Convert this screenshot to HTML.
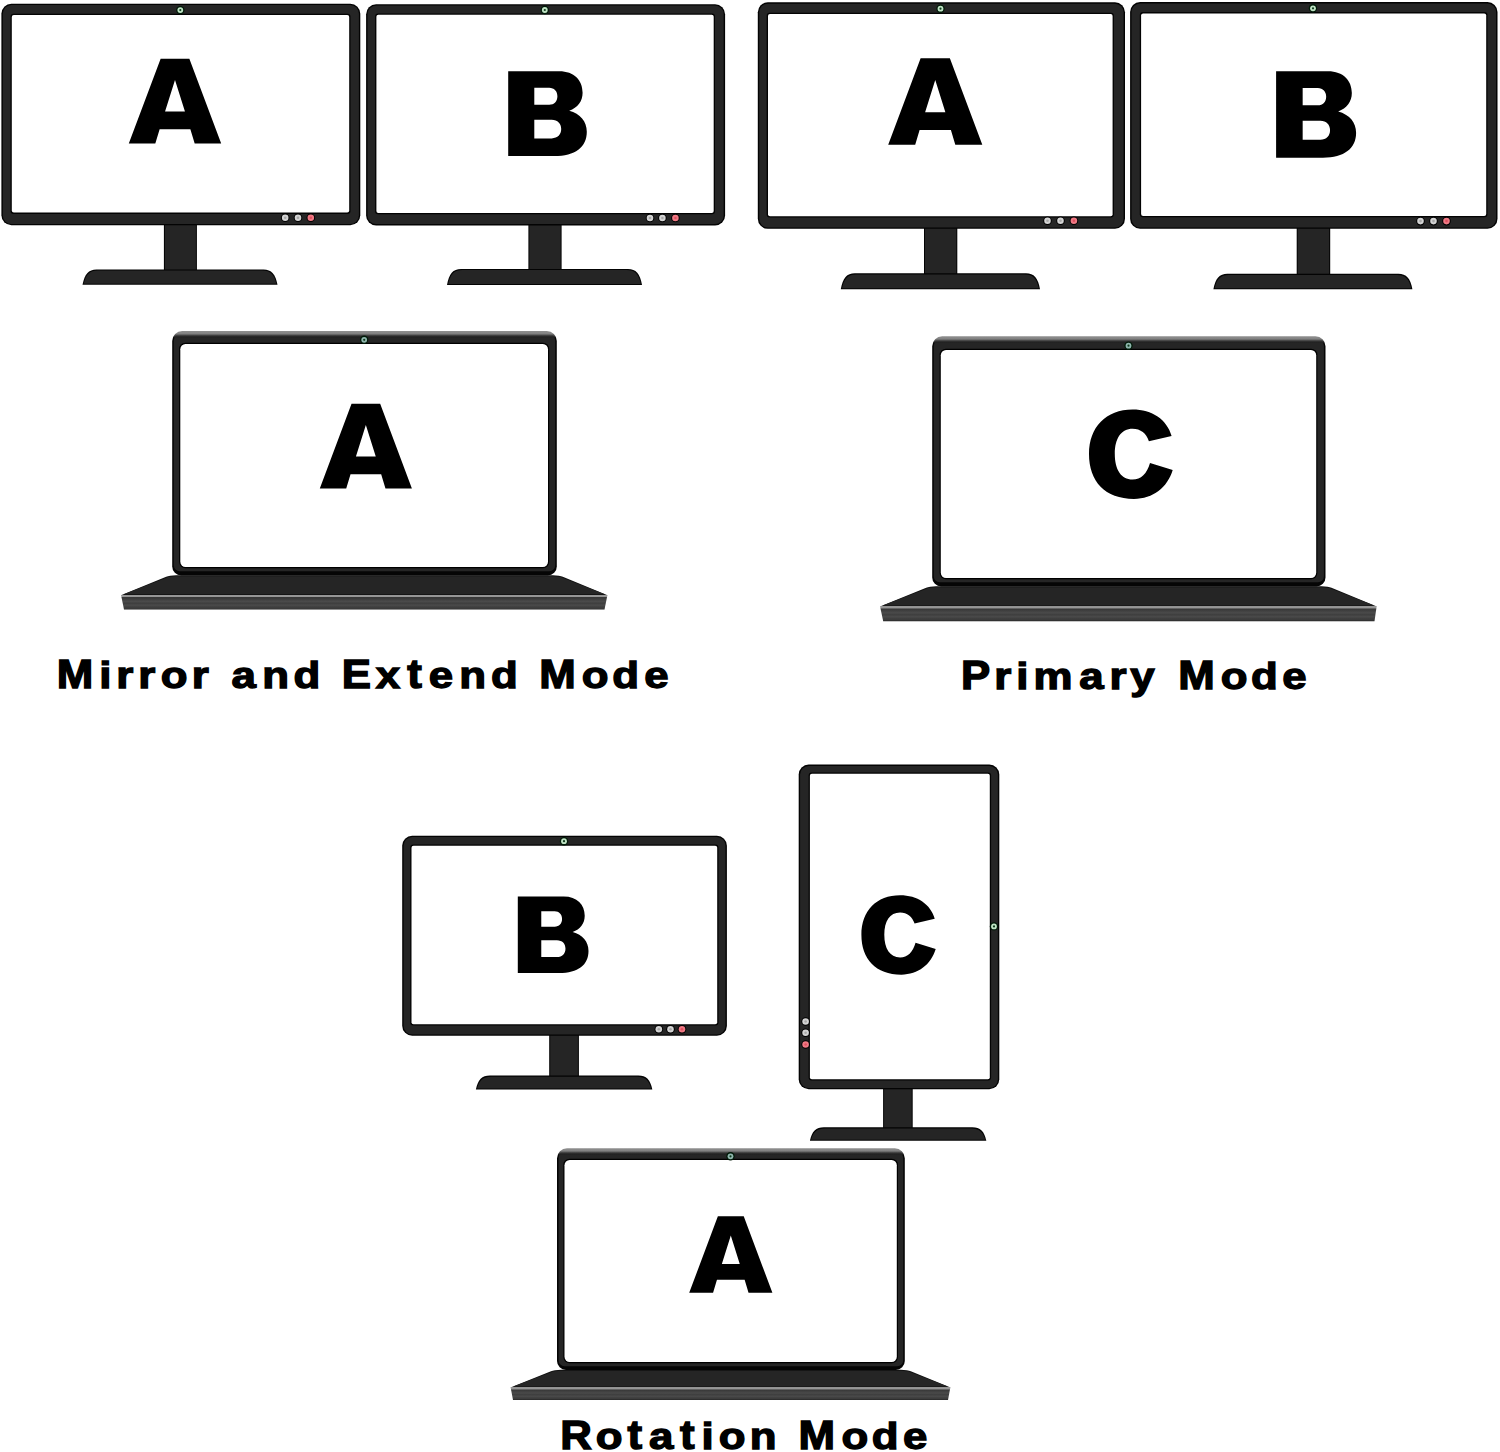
<!DOCTYPE html>
<html><head><meta charset="utf-8"><title>Display Modes</title><style>html,body{margin:0;padding:0;background:#fff;}body{width:1500px;height:1452px;overflow:hidden;}svg{display:block;font-family:"Liberation Sans",sans-serif;}</style></head><body>
<svg width="1500" height="1452" viewBox="0 0 1500 1452">
<defs><linearGradient id="front" x1="0" y1="0" x2="0" y2="1"><stop offset="0" stop-color="#383838"/><stop offset="0.1" stop-color="#3a3a3a"/><stop offset="0.35" stop-color="#4a4a4a"/><stop offset="0.5" stop-color="#3e3e3e"/><stop offset="0.65" stop-color="#4a4a4a"/><stop offset="0.8" stop-color="#3e3e3e"/><stop offset="0.92" stop-color="#3a3a3a"/><stop offset="1" stop-color="#1e1e1e"/></linearGradient></defs>
<rect width="1500" height="1452" fill="#fff"/>
<rect x="163.9" y="223" width="33" height="47.4" rx="0" fill="#030303"/><rect x="164.9" y="223" width="31" height="47.4" rx="0" fill="#252525"/><path fill="#030303" d="M82.5,284.8 C84.5,274.02 88.5,269.4 96.5,269.4 H263.5 C271.5,269.4 275.5,274.02 277.5,284.8 Z"/><path fill="#252525" d="M83.7,283.8 C85.7,274.49 89.7,270.5 97.7,270.5 H262.3 C270.3,270.5 274.3,274.49 276.3,283.8 Z"/><rect x="1.4" y="3.7" width="358.9" height="221.6" rx="10" fill="#030303"/><rect x="2.8" y="5.1" width="356.1" height="218.8" rx="8.6" fill="#252525"/><rect x="10.5" y="13.8" width="340" height="200.1" rx="3" fill="#030303"/><rect x="11.8" y="15.1" width="337.4" height="197.5" rx="2" fill="#fff"/><circle cx="180.3" cy="10.1" r="4.2" fill="#001a08"/><circle cx="180.3" cy="10.1" r="2.9" fill="#bfe3c4"/><circle cx="180.3" cy="10.1" r="1.1" fill="#0f3a1c"/><circle cx="285.2" cy="217.8" r="4.3" fill="#000"/><circle cx="285.2" cy="217.8" r="3.3" fill="#d4d4d4"/><circle cx="285.2" cy="217.8" r="1.3" fill="#a8a8a8"/><circle cx="298" cy="217.8" r="4.3" fill="#000"/><circle cx="298" cy="217.8" r="3.3" fill="#d4d4d4"/><circle cx="298" cy="217.8" r="1.3" fill="#a8a8a8"/><circle cx="310.8" cy="217.8" r="4.3" fill="#000"/><circle cx="310.8" cy="217.8" r="3.3" fill="#f07a85"/><circle cx="310.8" cy="217.8" r="1.3" fill="#e05060"/>
<path fill="#000" fill-rule="evenodd" transform="translate(128.8 58.8) scale(1.00435 1.00000)" d="M31.7,0 L60.3,0 L92,84.8 L65.6,84.8 L61.3,70.4 L30.7,70.4 L26.4,84.8 L0,84.8 Z M46,21.2 L55.9,52.8 L36.1,52.8 Z"/>
<rect x="528.4" y="223.4" width="33.2" height="46.6" rx="0" fill="#030303"/><rect x="529.4" y="223.4" width="31.2" height="46.6" rx="0" fill="#252525"/><path fill="#030303" d="M447,285 C449,273.8 453,269 461,269 H628 C636,269 640,273.8 642,285 Z"/><path fill="#252525" d="M448.2,284 C450.2,274.27 454.2,270.1 462.2,270.1 H626.8 C634.8,270.1 638.8,274.27 640.8,284 Z"/><rect x="366.1" y="4.2" width="359" height="221.2" rx="10" fill="#030303"/><rect x="367.5" y="5.6" width="356.2" height="218.4" rx="8.6" fill="#252525"/><rect x="375.1" y="13.4" width="339.9" height="200.9" rx="3" fill="#030303"/><rect x="376.4" y="14.7" width="337.3" height="198.3" rx="2" fill="#fff"/><circle cx="544.8" cy="10" r="4.2" fill="#001a08"/><circle cx="544.8" cy="10" r="2.9" fill="#bfe3c4"/><circle cx="544.8" cy="10" r="1.1" fill="#0f3a1c"/><circle cx="650" cy="218" r="4.3" fill="#000"/><circle cx="650" cy="218" r="3.3" fill="#d4d4d4"/><circle cx="650" cy="218" r="1.3" fill="#a8a8a8"/><circle cx="662.4" cy="218" r="4.3" fill="#000"/><circle cx="662.4" cy="218" r="3.3" fill="#d4d4d4"/><circle cx="662.4" cy="218" r="1.3" fill="#a8a8a8"/><circle cx="675.4" cy="218" r="4.3" fill="#000"/><circle cx="675.4" cy="218" r="3.3" fill="#f07a85"/><circle cx="675.4" cy="218" r="1.3" fill="#e05060"/>
<path fill="#000" fill-rule="evenodd" transform="translate(508.2 71.2) scale(1.00000 1.00000)" d="M0,0 H51 C66,0 74.4,9 74.4,21.5 C74.4,30 69.5,36.5 61,39.5 C72,42.5 78.6,50 78.6,60.5 C78.6,76 67,84.9 46,84.9 H0 Z M26.1,16.5 H41 C46,16.5 49.2,20 49.2,25 C49.2,30 46,33.5 41,33.5 H26.1 Z M26.1,48.6 H43.5 C49.5,48.6 53,52.5 53,57.9 C53,63.3 49.5,67.2 43.5,67.2 H26.1 Z"/>
<path fill="#111" d="M121,595.3 L166.2,576.8 Q169.2,575.2 176.2,575.2 H552.8 Q559.8,575.2 562.8,576.8 L607.5,595.3 Z"/><path fill="#252525" d="M123.6,594.3 L166.6,577.8 Q169.7,576.3 176.2,576.3 H552.8 Q559.3,576.3 562.4,577.8 L604.9,594.3 Z"/><path fill="#969696" d="M121,595 L607.5,595 L607.05,597.1 L121.45,597.1 Z"/><path fill="url(#front)" d="M121.45,597.1 L607.05,597.1 L604.5,609.5 L124,609.5 Z"/><linearGradient id="lg1" gradientUnits="userSpaceOnUse" x1="0" y1="331" x2="0" y2="338"><stop offset="0" stop-color="#909090"/><stop offset="0.36" stop-color="#828282"/><stop offset="0.72" stop-color="#3a3a3a"/><stop offset="1" stop-color="#050505"/></linearGradient><linearGradient id="lb1" gradientUnits="userSpaceOnUse" x1="0" y1="334.5" x2="0" y2="338"><stop offset="0" stop-color="#252525" stop-opacity="0"/><stop offset="0.5" stop-color="#252525" stop-opacity="0.5"/><stop offset="1" stop-color="#252525"/></linearGradient><path fill="url(#lg1)" d="M172.2,341 A10,10 0 0 1 182.2,331 H546.8 A10,10 0 0 1 556.8,341 V566.5 A9,9 0 0 1 547.8,575.5 H181.2 A9,9 0 0 1 172.2,566.5 Z"/><path fill="url(#lb1)" d="M173.8,340.5 A8.5,8.5 0 0 1 182.3,332 H546.7 A8.5,8.5 0 0 1 555.2,340.5 V565.3 A6,6 0 0 1 549.2,571.3 H179.8 A6,6 0 0 1 173.8,565.3 Z"/><rect x="179.1" y="342.8" width="370.1" height="225.5" rx="6.2" fill="#000"/><rect x="180.3" y="344" width="367.7" height="223" rx="5.2" fill="#fff"/><circle cx="364.2" cy="339.8" r="4.2" fill="#001a08"/><circle cx="364.2" cy="339.8" r="2.9" fill="#8fb5ad"/><circle cx="364.2" cy="339.8" r="1.1" fill="#0f3a1c"/>
<path fill="#000" fill-rule="evenodd" transform="translate(319.8 403.8) scale(1.00109 1.00000)" d="M31.7,0 L60.3,0 L92,84.8 L65.6,84.8 L61.3,70.4 L30.7,70.4 L26.4,84.8 L0,84.8 Z M46,21.2 L55.9,52.8 L36.1,52.8 Z"/>
<rect x="924" y="226.8" width="33.3" height="47.5" rx="0" fill="#030303"/><rect x="925" y="226.8" width="31.3" height="47.5" rx="0" fill="#252525"/><path fill="#030303" d="M840.8,289.3 C842.8,278.1 846.8,273.3 854.8,273.3 H1026 C1034,273.3 1038,278.1 1040,289.3 Z"/><path fill="#252525" d="M842,288.3 C844,278.57 848,274.4 856,274.4 H1024.8 C1032.8,274.4 1036.8,278.57 1038.8,288.3 Z"/><rect x="757.8" y="2.3" width="367.2" height="226.5" rx="10" fill="#030303"/><rect x="759.2" y="3.7" width="364.4" height="223.7" rx="8.6" fill="#252525"/><rect x="766.7" y="12.7" width="347.2" height="204.8" rx="3" fill="#030303"/><rect x="768" y="14" width="344.6" height="202.2" rx="2" fill="#fff"/><circle cx="940.5" cy="8.7" r="4.2" fill="#001a08"/><circle cx="940.5" cy="8.7" r="2.9" fill="#bfe3c4"/><circle cx="940.5" cy="8.7" r="1.1" fill="#0f3a1c"/><circle cx="1047.5" cy="220.8" r="4.3" fill="#000"/><circle cx="1047.5" cy="220.8" r="3.3" fill="#d4d4d4"/><circle cx="1047.5" cy="220.8" r="1.3" fill="#a8a8a8"/><circle cx="1060.5" cy="220.8" r="4.3" fill="#000"/><circle cx="1060.5" cy="220.8" r="3.3" fill="#d4d4d4"/><circle cx="1060.5" cy="220.8" r="1.3" fill="#a8a8a8"/><circle cx="1073.9" cy="220.8" r="4.3" fill="#000"/><circle cx="1073.9" cy="220.8" r="3.3" fill="#f07a85"/><circle cx="1073.9" cy="220.8" r="1.3" fill="#e05060"/>
<path fill="#000" fill-rule="evenodd" transform="translate(888.2 58.3) scale(1.02283 1.02005)" d="M31.7,0 L60.3,0 L92,84.8 L65.6,84.8 L61.3,70.4 L30.7,70.4 L26.4,84.8 L0,84.8 Z M46,21.2 L55.9,52.8 L36.1,52.8 Z"/>
<rect x="1296.7" y="226.8" width="33.5" height="48" rx="0" fill="#030303"/><rect x="1297.7" y="226.8" width="31.5" height="48" rx="0" fill="#252525"/><path fill="#030303" d="M1213.4,289.3 C1215.4,278.45 1219.4,273.8 1227.4,273.8 H1398.4 C1406.4,273.8 1410.4,278.45 1412.4,289.3 Z"/><path fill="#252525" d="M1214.6,288.3 C1216.6,278.92 1220.6,274.9 1228.6,274.9 H1397.2 C1405.2,274.9 1409.2,278.92 1411.2,288.3 Z"/><rect x="1130.1" y="2.1" width="367.4" height="226.7" rx="10" fill="#030303"/><rect x="1131.5" y="3.5" width="364.6" height="223.9" rx="8.6" fill="#252525"/><rect x="1139.8" y="12.1" width="347.7" height="205.2" rx="3" fill="#030303"/><rect x="1141.1" y="13.4" width="345.1" height="202.6" rx="2" fill="#fff"/><circle cx="1313" cy="8.3" r="4.2" fill="#001a08"/><circle cx="1313" cy="8.3" r="2.9" fill="#bfe3c4"/><circle cx="1313" cy="8.3" r="1.1" fill="#0f3a1c"/><circle cx="1420.5" cy="221.1" r="4.3" fill="#000"/><circle cx="1420.5" cy="221.1" r="3.3" fill="#d4d4d4"/><circle cx="1420.5" cy="221.1" r="1.3" fill="#a8a8a8"/><circle cx="1433.5" cy="221.1" r="4.3" fill="#000"/><circle cx="1433.5" cy="221.1" r="3.3" fill="#d4d4d4"/><circle cx="1433.5" cy="221.1" r="1.3" fill="#a8a8a8"/><circle cx="1446.5" cy="221.1" r="4.3" fill="#000"/><circle cx="1446.5" cy="221.1" r="3.3" fill="#f07a85"/><circle cx="1446.5" cy="221.1" r="1.3" fill="#e05060"/>
<path fill="#000" fill-rule="evenodd" transform="translate(1276.1 71.2) scale(1.01781 1.01885)" d="M0,0 H51 C66,0 74.4,9 74.4,21.5 C74.4,30 69.5,36.5 61,39.5 C72,42.5 78.6,50 78.6,60.5 C78.6,76 67,84.9 46,84.9 H0 Z M26.1,16.5 H41 C46,16.5 49.2,20 49.2,25 C49.2,30 46,33.5 41,33.5 H26.1 Z M26.1,48.6 H43.5 C49.5,48.6 53,52.5 53,57.9 C53,63.3 49.5,67.2 43.5,67.2 H26.1 Z"/>
<path fill="#111" d="M880,606.5 L926.2,587.8 Q929.2,586.2 936.2,586.2 H1321.5 Q1328.5,586.2 1331.5,587.8 L1376.8,606.5 Z"/><path fill="#252525" d="M882.6,605.5 L926.6,588.8 Q929.7,587.3 936.2,587.3 H1321.5 Q1328,587.3 1331.1,588.8 L1374.2,605.5 Z"/><path fill="#969696" d="M880,606.2 L1376.8,606.2 L1376.35,608.3 L880.45,608.3 Z"/><path fill="url(#front)" d="M880.45,608.3 L1376.35,608.3 L1374.5,621.2 L883.2,621.2 Z"/><linearGradient id="lg2" gradientUnits="userSpaceOnUse" x1="0" y1="336.3" x2="0" y2="343.3"><stop offset="0" stop-color="#909090"/><stop offset="0.36" stop-color="#828282"/><stop offset="0.72" stop-color="#3a3a3a"/><stop offset="1" stop-color="#050505"/></linearGradient><linearGradient id="lb2" gradientUnits="userSpaceOnUse" x1="0" y1="339.8" x2="0" y2="343.3"><stop offset="0" stop-color="#252525" stop-opacity="0"/><stop offset="0.5" stop-color="#252525" stop-opacity="0.5"/><stop offset="1" stop-color="#252525"/></linearGradient><path fill="url(#lg2)" d="M932.2,346.3 A10,10 0 0 1 942.2,336.3 H1315.5 A10,10 0 0 1 1325.5,346.3 V577.5 A9,9 0 0 1 1316.5,586.5 H941.2 A9,9 0 0 1 932.2,577.5 Z"/><path fill="url(#lb2)" d="M933.8,345.8 A8.5,8.5 0 0 1 942.3,337.3 H1315.4 A8.5,8.5 0 0 1 1323.9,345.8 V576.3 A6,6 0 0 1 1317.9,582.3 H939.8 A6,6 0 0 1 933.8,576.3 Z"/><rect x="939.6" y="348.8" width="377.8" height="230.5" rx="6.2" fill="#000"/><rect x="940.8" y="350" width="375.4" height="228" rx="5.2" fill="#fff"/><circle cx="1128.5" cy="345.7" r="4.2" fill="#001a08"/><circle cx="1128.5" cy="345.7" r="2.9" fill="#8fb5ad"/><circle cx="1128.5" cy="345.7" r="1.1" fill="#0f3a1c"/>
<path fill="#000" fill-rule="evenodd" transform="translate(1089 409.5) scale(1.00000 1.00000)" d="M82.6,26.5 C78,10 63,0 43.6,0 C17,0 0,17.5 0,44.5 C0,72 16,89.4 45,89.4 C64,89.4 78.5,78 83.7,60.6 L61,53.4 C58,64 52,70 43.6,70 C32,70 25.8,60 25.8,44.5 C25.8,29 32,19.3 43.6,19.3 C51.5,19.3 57.5,24 59.9,31.8 Z"/>
<rect x="549.2" y="1033.8" width="29.7" height="42.8" rx="0" fill="#030303"/><rect x="550.2" y="1033.8" width="27.7" height="42.8" rx="0" fill="#252525"/><path fill="#030303" d="M475.9,1089.6 C477.9,1079.8 481.9,1075.6 489.9,1075.6 H638.3 C646.3,1075.6 650.3,1079.8 652.3,1089.6 Z"/><path fill="#252525" d="M477.1,1088.6 C479.1,1080.27 483.1,1076.7 491.1,1076.7 H637.1 C645.1,1076.7 649.1,1080.27 651.1,1088.6 Z"/><rect x="402.2" y="835.7" width="324.7" height="200.1" rx="10" fill="#030303"/><rect x="403.6" y="837.1" width="321.9" height="197.3" rx="8.6" fill="#252525"/><rect x="410.2" y="844.4" width="308.3" height="181.2" rx="3" fill="#030303"/><rect x="411.5" y="845.7" width="305.7" height="178.6" rx="2" fill="#fff"/><circle cx="564" cy="841.2" r="4.2" fill="#001a08"/><circle cx="564" cy="841.2" r="2.9" fill="#bfe3c4"/><circle cx="564" cy="841.2" r="1.1" fill="#0f3a1c"/><circle cx="658.8" cy="1029.3" r="4.3" fill="#000"/><circle cx="658.8" cy="1029.3" r="3.3" fill="#d4d4d4"/><circle cx="658.8" cy="1029.3" r="1.3" fill="#a8a8a8"/><circle cx="670.5" cy="1029.3" r="4.3" fill="#000"/><circle cx="670.5" cy="1029.3" r="3.3" fill="#d4d4d4"/><circle cx="670.5" cy="1029.3" r="1.3" fill="#a8a8a8"/><circle cx="682" cy="1029.3" r="4.3" fill="#000"/><circle cx="682" cy="1029.3" r="3.3" fill="#f07a85"/><circle cx="682" cy="1029.3" r="1.3" fill="#e05060"/>
<path fill="#000" fill-rule="evenodd" transform="translate(517.8 896.4) scale(0.89949 0.90342)" d="M0,0 H51 C66,0 74.4,9 74.4,21.5 C74.4,30 69.5,36.5 61,39.5 C72,42.5 78.6,50 78.6,60.5 C78.6,76 67,84.9 46,84.9 H0 Z M26.1,16.5 H41 C46,16.5 49.2,20 49.2,25 C49.2,30 46,33.5 41,33.5 H26.1 Z M26.1,48.6 H43.5 C49.5,48.6 53,52.5 53,57.9 C53,63.3 49.5,67.2 43.5,67.2 H26.1 Z"/>
<rect x="883.1" y="1087.3" width="29.6" height="41" rx="0" fill="#030303"/><rect x="884.1" y="1087.3" width="27.6" height="41" rx="0" fill="#252525"/><path fill="#030303" d="M809.9,1140.8 C811.9,1131.35 815.9,1127.3 823.9,1127.3 H972.3 C980.3,1127.3 984.3,1131.35 986.3,1140.8 Z"/><path fill="#252525" d="M811.1,1139.8 C813.1,1131.82 817.1,1128.4 825.1,1128.4 H971.1 C979.1,1128.4 983.1,1131.82 985.1,1139.8 Z"/><rect x="798.7" y="764.6" width="200.6" height="324.7" rx="10" fill="#030303"/><rect x="800.1" y="766" width="197.8" height="321.9" rx="8.6" fill="#252525"/><rect x="808.6" y="772.5" width="182.5" height="308.1" rx="3" fill="#030303"/><rect x="809.9" y="773.8" width="179.9" height="305.5" rx="2" fill="#fff"/><circle cx="994" cy="926.4" r="4.2" fill="#001a08"/><circle cx="994" cy="926.4" r="2.9" fill="#bfe3c4"/><circle cx="994" cy="926.4" r="1.1" fill="#0f3a1c"/><circle cx="805.6" cy="1021.5" r="4.3" fill="#000"/><circle cx="805.6" cy="1021.5" r="3.3" fill="#d4d4d4"/><circle cx="805.6" cy="1021.5" r="1.3" fill="#a8a8a8"/><circle cx="805.6" cy="1032.7" r="4.3" fill="#000"/><circle cx="805.6" cy="1032.7" r="3.3" fill="#d4d4d4"/><circle cx="805.6" cy="1032.7" r="1.3" fill="#a8a8a8"/><circle cx="805.6" cy="1044.5" r="4.3" fill="#000"/><circle cx="805.6" cy="1044.5" r="3.3" fill="#f07a85"/><circle cx="805.6" cy="1044.5" r="1.3" fill="#e05060"/>
<path fill="#000" fill-rule="evenodd" transform="translate(861.4 895.3) scale(0.88769 0.88814)" d="M82.6,26.5 C78,10 63,0 43.6,0 C17,0 0,17.5 0,44.5 C0,72 16,89.4 45,89.4 C64,89.4 78.5,78 83.7,60.6 L61,53.4 C58,64 52,70 43.6,70 C32,70 25.8,60 25.8,44.5 C25.8,29 32,19.3 43.6,19.3 C51.5,19.3 57.5,24 59.9,31.8 Z"/>
<path fill="#111" d="M510.5,1387.5 L551,1371.3 Q554,1369.7 561,1369.7 H900.8 Q907.8,1369.7 910.8,1371.3 L950.5,1387.5 Z"/><path fill="#252525" d="M513.1,1386.5 L551.4,1372.3 Q554.5,1370.8 561,1370.8 H900.8 Q907.3,1370.8 910.4,1372.3 L947.9,1386.5 Z"/><path fill="#969696" d="M510.5,1387.2 L950.5,1387.2 L950.05,1389.3 L510.95,1389.3 Z"/><path fill="url(#front)" d="M510.95,1389.3 L950.05,1389.3 L948,1400 L513,1400 Z"/><linearGradient id="lg3" gradientUnits="userSpaceOnUse" x1="0" y1="1148.2" x2="0" y2="1155.2"><stop offset="0" stop-color="#909090"/><stop offset="0.36" stop-color="#828282"/><stop offset="0.72" stop-color="#3a3a3a"/><stop offset="1" stop-color="#050505"/></linearGradient><linearGradient id="lb3" gradientUnits="userSpaceOnUse" x1="0" y1="1151.7" x2="0" y2="1155.2"><stop offset="0" stop-color="#252525" stop-opacity="0"/><stop offset="0.5" stop-color="#252525" stop-opacity="0.5"/><stop offset="1" stop-color="#252525"/></linearGradient><path fill="url(#lg3)" d="M557,1158.2 A10,10 0 0 1 567,1148.2 H894.8 A10,10 0 0 1 904.8,1158.2 V1361 A9,9 0 0 1 895.8,1370 H566 A9,9 0 0 1 557,1361 Z"/><path fill="url(#lb3)" d="M558.6,1157.7 A8.5,8.5 0 0 1 567.1,1149.2 H894.7 A8.5,8.5 0 0 1 903.2,1157.7 V1360.3 A6,6 0 0 1 897.2,1366.3 H564.6 A6,6 0 0 1 558.6,1360.3 Z"/><rect x="563.3" y="1158.8" width="334.7" height="204.5" rx="6.2" fill="#000"/><rect x="564.5" y="1160" width="332.3" height="202" rx="5.2" fill="#fff"/><circle cx="730.5" cy="1156.3" r="4.2" fill="#001a08"/><circle cx="730.5" cy="1156.3" r="2.9" fill="#8fb5ad"/><circle cx="730.5" cy="1156.3" r="1.1" fill="#0f3a1c"/>
<path fill="#000" fill-rule="evenodd" transform="translate(689.2 1216.3) scale(0.90435 0.90212)" d="M31.7,0 L60.3,0 L92,84.8 L65.6,84.8 L61.3,70.4 L30.7,70.4 L26.4,84.8 L0,84.8 Z M46,21.2 L55.9,52.8 L36.1,52.8 Z"/>
<text transform="translate(0 688.1) scale(1.09295 1)" x="51.82" y="0" font-family="Liberation Sans" font-weight="bold" font-size="40.1" fill="#000" stroke="#000" stroke-width="1.4">M</text><text transform="translate(0 688.1) scale(1.09295 0.93)" x="90.77" y="0" font-family="Liberation Sans" font-weight="bold" font-size="40.1" fill="#000" stroke="#000" stroke-width="1.4">i</text><text transform="translate(0 688.1) scale(1.09295 0.93)" x="106.48" y="0" font-family="Liberation Sans" font-weight="bold" font-size="40.1" fill="#000" stroke="#000" stroke-width="1.4">r</text><text transform="translate(0 688.1) scale(1.09295 0.93)" x="126.61" y="0" font-family="Liberation Sans" font-weight="bold" font-size="40.1" fill="#000" stroke="#000" stroke-width="1.4">r</text><text transform="translate(0 688.1) scale(1.09295 0.93)" x="147.17" y="0" font-family="Liberation Sans" font-weight="bold" font-size="40.1" fill="#000" stroke="#000" stroke-width="1.4">o</text><text transform="translate(0 688.1) scale(1.09295 0.93)" x="175.38" y="0" font-family="Liberation Sans" font-weight="bold" font-size="40.1" fill="#000" stroke="#000" stroke-width="1.4">r</text><text transform="translate(0 688.1) scale(1.09295 0.93)" x="211.80" y="0" font-family="Liberation Sans" font-weight="bold" font-size="40.1" fill="#000" stroke="#000" stroke-width="1.4">a</text><text transform="translate(0 688.1) scale(1.09295 0.93)" x="240.06" y="0" font-family="Liberation Sans" font-weight="bold" font-size="40.1" fill="#000" stroke="#000" stroke-width="1.4">n</text><text transform="translate(0 688.1) scale(1.09295 0.93)" x="268.51" y="0" font-family="Liberation Sans" font-weight="bold" font-size="40.1" fill="#000" stroke="#000" stroke-width="1.4">d</text><text transform="translate(0 688.1) scale(1.09295 1)" x="312.58" y="0" font-family="Liberation Sans" font-weight="bold" font-size="40.1" fill="#000" stroke="#000" stroke-width="1.4">E</text><text transform="translate(0 688.1) scale(1.09295 0.93)" x="343.90" y="0" font-family="Liberation Sans" font-weight="bold" font-size="40.1" fill="#000" stroke="#000" stroke-width="1.4">x</text><text transform="translate(0 688.1) scale(1.09295 1)" x="372.69" y="0" font-family="Liberation Sans" font-weight="bold" font-size="40.1" fill="#000" stroke="#000" stroke-width="1.4">t</text><text transform="translate(0 688.1) scale(1.09295 0.93)" x="392.38" y="0" font-family="Liberation Sans" font-weight="bold" font-size="40.1" fill="#000" stroke="#000" stroke-width="1.4">e</text><text transform="translate(0 688.1) scale(1.09295 0.93)" x="420.31" y="0" font-family="Liberation Sans" font-weight="bold" font-size="40.1" fill="#000" stroke="#000" stroke-width="1.4">n</text><text transform="translate(0 688.1) scale(1.09295 0.93)" x="449.31" y="0" font-family="Liberation Sans" font-weight="bold" font-size="40.1" fill="#000" stroke="#000" stroke-width="1.4">d</text><text transform="translate(0 688.1) scale(1.09295 1)" x="493.38" y="0" font-family="Liberation Sans" font-weight="bold" font-size="40.1" fill="#000" stroke="#000" stroke-width="1.4">M</text><text transform="translate(0 688.1) scale(1.09295 0.93)" x="532.37" y="0" font-family="Liberation Sans" font-weight="bold" font-size="40.1" fill="#000" stroke="#000" stroke-width="1.4">o</text><text transform="translate(0 688.1) scale(1.09295 0.93)" x="560.29" y="0" font-family="Liberation Sans" font-weight="bold" font-size="40.1" fill="#000" stroke="#000" stroke-width="1.4">d</text><text transform="translate(0 688.1) scale(1.09295 0.93)" x="589.46" y="0" font-family="Liberation Sans" font-weight="bold" font-size="40.1" fill="#000" stroke="#000" stroke-width="1.4">e</text>
<text transform="translate(0 688.7) scale(1.09295 1)" x="879.30" y="0" font-family="Liberation Sans" font-weight="bold" font-size="40.1" fill="#000" stroke="#000" stroke-width="1.4">P</text><text transform="translate(0 688.7) scale(1.09295 0.93)" x="909.72" y="0" font-family="Liberation Sans" font-weight="bold" font-size="40.1" fill="#000" stroke="#000" stroke-width="1.4">r</text><text transform="translate(0 688.7) scale(1.09295 0.93)" x="929.88" y="0" font-family="Liberation Sans" font-weight="bold" font-size="40.1" fill="#000" stroke="#000" stroke-width="1.4">i</text><text transform="translate(0 688.7) scale(1.09295 0.93)" x="945.59" y="0" font-family="Liberation Sans" font-weight="bold" font-size="40.1" fill="#000" stroke="#000" stroke-width="1.4">m</text><text transform="translate(0 688.7) scale(1.09295 0.93)" x="987.50" y="0" font-family="Liberation Sans" font-weight="bold" font-size="40.1" fill="#000" stroke="#000" stroke-width="1.4">a</text><text transform="translate(0 688.7) scale(1.09295 0.93)" x="1015.12" y="0" font-family="Liberation Sans" font-weight="bold" font-size="40.1" fill="#000" stroke="#000" stroke-width="1.4">r</text><text transform="translate(0 688.7) scale(1.09295 0.93)" x="1034.11" y="0" font-family="Liberation Sans" font-weight="bold" font-size="40.1" fill="#000" stroke="#000" stroke-width="1.4">y</text><text transform="translate(0 688.7) scale(1.09295 1)" x="1078.03" y="0" font-family="Liberation Sans" font-weight="bold" font-size="40.1" fill="#000" stroke="#000" stroke-width="1.4">M</text><text transform="translate(0 688.7) scale(1.09295 0.93)" x="1116.84" y="0" font-family="Liberation Sans" font-weight="bold" font-size="40.1" fill="#000" stroke="#000" stroke-width="1.4">o</text><text transform="translate(0 688.7) scale(1.09295 0.93)" x="1144.58" y="0" font-family="Liberation Sans" font-weight="bold" font-size="40.1" fill="#000" stroke="#000" stroke-width="1.4">d</text><text transform="translate(0 688.7) scale(1.09295 0.93)" x="1173.21" y="0" font-family="Liberation Sans" font-weight="bold" font-size="40.1" fill="#000" stroke="#000" stroke-width="1.4">e</text>
<text transform="translate(0 1448.6) scale(1.09295 1)" x="512.50" y="0" font-family="Liberation Sans" font-weight="bold" font-size="40.1" fill="#000" stroke="#000" stroke-width="1.4">R</text><text transform="translate(0 1448.6) scale(1.09295 0.93)" x="545.18" y="0" font-family="Liberation Sans" font-weight="bold" font-size="40.1" fill="#000" stroke="#000" stroke-width="1.4">o</text><text transform="translate(0 1448.6) scale(1.09295 1)" x="574.07" y="0" font-family="Liberation Sans" font-weight="bold" font-size="40.1" fill="#000" stroke="#000" stroke-width="1.4">t</text><text transform="translate(0 1448.6) scale(1.09295 0.93)" x="593.70" y="0" font-family="Liberation Sans" font-weight="bold" font-size="40.1" fill="#000" stroke="#000" stroke-width="1.4">a</text><text transform="translate(0 1448.6) scale(1.09295 1)" x="622.20" y="0" font-family="Liberation Sans" font-weight="bold" font-size="40.1" fill="#000" stroke="#000" stroke-width="1.4">t</text><text transform="translate(0 1448.6) scale(1.09295 0.93)" x="641.85" y="0" font-family="Liberation Sans" font-weight="bold" font-size="40.1" fill="#000" stroke="#000" stroke-width="1.4">i</text><text transform="translate(0 1448.6) scale(1.09295 0.93)" x="657.63" y="0" font-family="Liberation Sans" font-weight="bold" font-size="40.1" fill="#000" stroke="#000" stroke-width="1.4">o</text><text transform="translate(0 1448.6) scale(1.09295 0.93)" x="686.10" y="0" font-family="Liberation Sans" font-weight="bold" font-size="40.1" fill="#000" stroke="#000" stroke-width="1.4">n</text><text transform="translate(0 1448.6) scale(1.09295 1)" x="730.62" y="0" font-family="Liberation Sans" font-weight="bold" font-size="40.1" fill="#000" stroke="#000" stroke-width="1.4">M</text><text transform="translate(0 1448.6) scale(1.09295 0.93)" x="769.98" y="0" font-family="Liberation Sans" font-weight="bold" font-size="40.1" fill="#000" stroke="#000" stroke-width="1.4">o</text><text transform="translate(0 1448.6) scale(1.09295 0.93)" x="797.72" y="0" font-family="Liberation Sans" font-weight="bold" font-size="40.1" fill="#000" stroke="#000" stroke-width="1.4">d</text><text transform="translate(0 1448.6) scale(1.09295 0.93)" x="826.25" y="0" font-family="Liberation Sans" font-weight="bold" font-size="40.1" fill="#000" stroke="#000" stroke-width="1.4">e</text>
</svg>
</body></html>
